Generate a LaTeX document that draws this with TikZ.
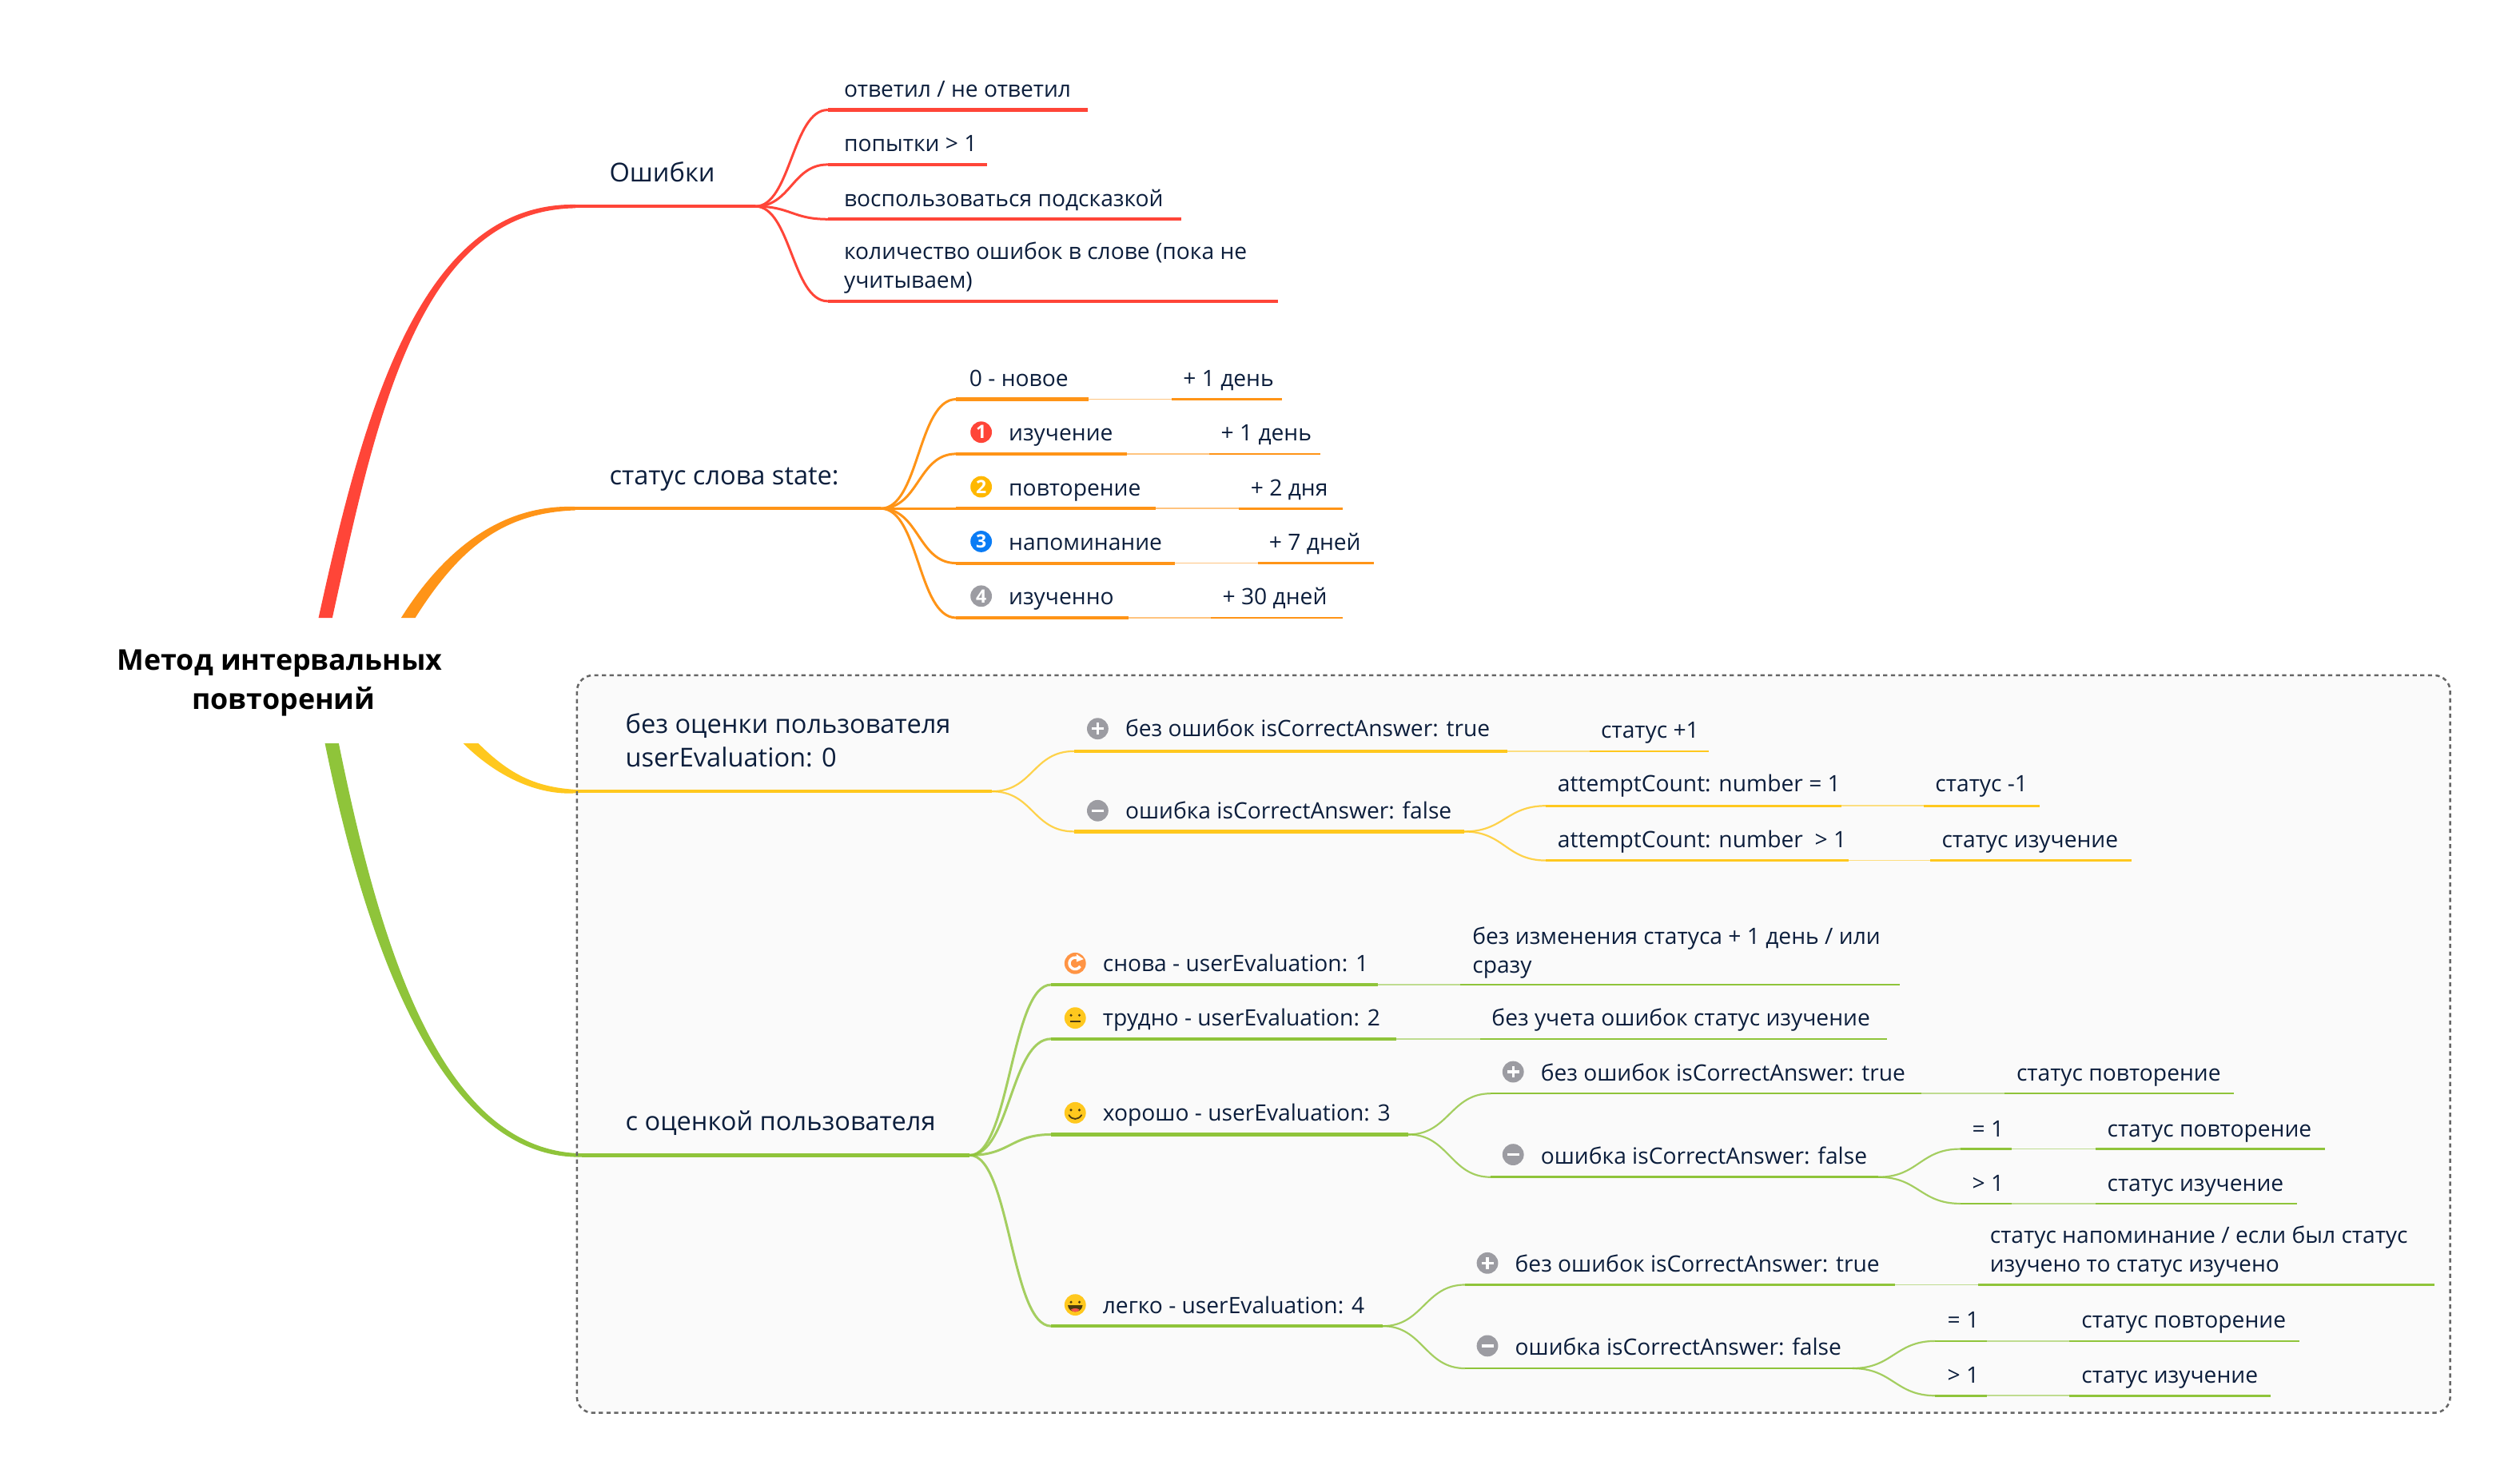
\documentclass[tikz,border=0pt]{standalone}
\usepackage{fontspec}
\setmainfont{Open Sans}
\usetikzlibrary{calc}
\definecolor{cred}{HTML}{FF4538}
\definecolor{corg}{HTML}{FF9417}
\definecolor{cyel}{HTML}{FFC81E}
\definecolor{cgrn}{HTML}{8FC43A}
\definecolor{ink}{HTML}{0C1E3C}
\definecolor{boxbg}{HTML}{FAFAFA}
\definecolor{boxln}{HTML}{666666}
\definecolor{cgray}{HTML}{9C9CA2}
\definecolor{cblue}{HTML}{0A7CF5}
\definecolor{cgold}{HTML}{FFB800}
\definecolor{rfsh}{HTML}{FF9444}
\definecolor{eyes}{HTML}{4A3A10}
\definecolor{tongue}{HTML}{F4574A}
\newcommand\fbody{\fontsize{14.1}{18.1}\selectfont}
\newcommand\ftop{\fontsize{16.3}{21.1}\selectfont}
\newcommand\froot{\fontsize{17.9}{24.6}\selectfont\bfseries}
\tikzset{
  x=1.0055pt,y=-1.0055pt,
  lvlA/.style={line width=2.2pt},
  lvlB/.style={line width=2.1pt},
  lvlC/.style={line width=1.3pt},
  linkline/.style={line width=0.8pt,opacity=.55},
  fanA/.style={line width=1.5pt,line cap=round},
  fanB/.style={line width=1.1pt,opacity=.8,line cap=round},
  lab/.style={font=\fbody,text=ink,anchor=base west,inner sep=0pt,align=left},
  toplab/.style={font=\ftop,text=ink,anchor=base west,inner sep=0pt,align=left},
  rootn/.style={font=\froot,text=black,align=center,inner sep=0pt,minimum height=78.4pt,minimum width=205pt},
  badge/.style={circle,inner sep=0pt,minimum size=13.4pt,text=white,font=\fontsize{11.5}{11.5}\selectfont\bfseries},
  frame/.style={line width=1.25pt,draw=boxln,dash pattern=on 2.6pt off 2.2pt,rounded corners=10pt},
}
% straight segment between two named coordinates
\newcommand\tseg[6]{\coordinate (#3-a) at (#4,#6); \coordinate (#3-b) at (#5,#6);
  \draw[#1,#2] (#3-a) -- (#3-b);}
% topic line with a faded link and the following child line
\newcommand\tpair[8]{\tseg{#1}{#2}{#3}{#4}{#5}{#8}
  \coordinate (#3-c) at (#6,#8); \coordinate (#3-d) at (#7,#8);
  \draw[#1,linkline] (#3-b) -- (#3-c);
  \draw[#1,lvlC] (#3-c) -- (#3-d);}
% S-curve from a parent end to a child start
\newcommand\tfan[5]{\draw[#1,#2] (#3) .. controls +(#5,0) and +(-#5,0) .. (#4);}
% tapered main branch: colour, start, c1 offset, c2 offset, end, half width at start, half width at end
\newcommand\ttaper[7]{\fill[#1] ($(#2)-(#6,0)$) .. controls ($(#2)+(#3)-(#6,0)$) and ($(#5)+(#4)-(0,2.4*#7)$) .. ($(#5)-(0,#7)$)
  -- ($(#5)+(0,#7)$) .. controls ($(#5)+(#4)+(0,2.4*#7)$) and ($(#2)+(#3)+(#6,0)$) .. ($(#2)+(#6,0)$) -- cycle;}
\newcommand\tlab[4]{\node[lab] (#1) at (#2,#3) {#4};}
\newcommand\ttop[4]{\node[toplab] (#1) at (#2,#3) {#4};}
\newcommand\tnum[5]{\node[badge,fill=#4] (#1) at (#2,#3) {#5};}
\newcommand\tplus[3]{\node[badge,fill=cgray] (#1) at (#2,#3) {};
  \draw[white,line width=1.7pt] ($(#1)-(3.7,0)$) -- ($(#1)+(3.7,0)$);
  \draw[white,line width=1.7pt] ($(#1)-(0,3.7)$) -- ($(#1)+(0,3.7)$);}
\newcommand\tminus[3]{\node[badge,fill=cgray] (#1) at (#2,#3) {};
  \draw[white,line width=1.7pt] ($(#1)-(3.7,0)$) -- ($(#1)+(3.7,0)$);}
\newcommand\tface[3]{\node[badge,fill=cyel] (#1) at (#2,#3) {};
  \fill[eyes] ($(#1)+(-2.6,-1.7)$) circle (0.85);
  \fill[eyes] ($(#1)+(2.6,-1.7)$) circle (0.85);}
\begin{document}
\begin{tikzpicture}
\path[use as bounding box,fill=white] (0,-0.4) rectangle (1568,921.1);
\node[rootn] (root) at (174,424.5) {Метод интервальных\\\hspace*{5pt}повторений};
\coordinate (rR) at ($(root.north)+(28.5,-1.3)$);
\coordinate (rO) at ($(root.north)+(80,-1.3)$);
\coordinate (rY) at ($(root.south)+(119,-1.5)$);
\coordinate (rG) at ($(root.south)+(32.5,-1.5)$);
% dashed group box, background
\node[fill=boxbg,rounded corners=10pt,inner sep=0pt,minimum width=1171.6pt,minimum height=461pt] (box) at (941.75,649.25) {};
% ---------- red
\tseg{cred}{lvlA}{err}{358}{470}{128}
\ttaper{cred}{rR}{27,-123}{-98,0}{err-a}{4.3}{1.1}
\ttop{terr}{379}{112.5}{Ошибки}
\tseg{cred}{lvlB}{e1}{515}{677}{68}
\tseg{cred}{lvlB}{e2}{515}{614}{102}
\tseg{cred}{lvlB}{e3}{515}{735}{136}
\tseg{cred}{lvlB}{e4}{515}{795}{187}
\foreach \k in {e1,e2,e3,e4}{\tfan{cred}{fanA}{err-b}{\k-a}{22}}
\tlab{te1}{525}{60}{ответил / не ответил}
\tlab{te2}{525}{94}{попытки > 1}
\tlab{te3}{525}{128}{воспользоваться подсказкой}
\tlab{te4}{525}{179}{количество ошибок в слове (пока не\\учитываем)}
% ---------- orange
\tseg{corg}{lvlA}{st}{358}{548}{316}
\ttaper{corg}{rO}{29,-46}{-43,0}{st-a}{4.4}{1.1}
\ttop{tst}{379}{301}{статус слова state:}
\tpair{corg}{lvlB}{s0}{595}{677.5}{729}{797.5}{248}
\tpair{corg}{lvlB}{s1}{595}{701}{752.6}{821.4}{282}
\tpair{corg}{lvlB}{s2}{595}{719}{770.6}{835.4}{316}
\tpair{corg}{lvlB}{s3}{595}{730.8}{782.6}{855}{350}
\tpair{corg}{lvlB}{s4}{595}{702}{753.6}{835.4}{384}
\foreach \k in {s0,s1,s2,s3,s4}{\tfan{corg}{fanA}{st-b}{\k-a}{24}}
\tlab{ts0}{603}{240}{0 - новое}
\tlab{tds0}{736}{240}{+ 1 день}
\tnum{b1}{610.5}{268.5}{cred}{1}
\tlab{ts1}{627.5}{274}{изучение}
\tlab{tds1}{759.5}{274}{+ 1 день}
\tnum{b2}{610.5}{302.5}{cgold}{2}
\tlab{ts2}{627.5}{308}{повторение}
\tlab{tds2}{778}{308}{+ 2 дня}
\tnum{b3}{610.5}{336.5}{cblue}{3}
\tlab{ts3}{627.5}{342}{напоминание}
\tlab{tds3}{789.5}{342}{+ 7 дней}
\tnum{b4}{610.5}{370.5}{cgray}{4}
\tlab{ts4}{627.5}{376}{изученно}
\tlab{tds4}{760.5}{376}{+ 30 дней}
% ---------- yellow
\tseg{cyel}{lvlA}{no}{358}{617}{492}
\ttaper{cyel}{rY}{20,20}{-24,0}{no-a}{4.7}{-1.1}
\ttop{tno}{389}{477}{без оценки пользователя\\userEvaluation: 0}
\tpair{cyel}{lvlB}{n1}{668.4}{938}{989}{1063}{467}
\tseg{cyel}{lvlB}{n2}{668.4}{911}{517}
\tfan{cyel}{fanB}{no-b}{n1-a}{26}
\tfan{cyel}{fanB}{no-b}{n2-a}{26}
\tplus{pn1}{683}{453}
\tlab{tn1}{700}{458}{без ошибок isCorrectAnswer: true}
\tlab{tdn1}{996}{459}{статус +1}
\tminus{mn2}{683}{504}
\tlab{tn2}{700}{509}{ошибка isCorrectAnswer: false}
\tpair{cyel}{lvlC}{n3}{962}{1146}{1197}{1269}{501}
\tpair{cyel}{lvlC}{n4}{962}{1150}{1201}{1326.5}{535}
\tfan{cyel}{fanB}{n2-b}{n3-a}{25}
\tfan{cyel}{fanB}{n2-b}{n4-a}{25}
\tlab{tn3}{969}{492}{attemptCount: number = 1}
\tlab{tdn3}{1204}{492}{статус -1}
\tlab{tn4}{969}{527}{attemptCount: number\ \ > 1}
\tlab{tdn4}{1208}{527}{статус изучение}
% ---------- green
\tseg{cgrn}{lvlA}{us}{362}{603.4}{718.4}
\ttaper{cgrn}{rG}{26,128}{-87,0}{us-a}{4.3}{-1.1}
\ttop{tus}{389}{703}{с оценкой пользователя}
\tpair{cgrn}{lvlB}{g1}{654}{857.2}{908.6}{1182}{612.3}
\tpair{cgrn}{lvlB}{g2}{654}{869}{920.9}{1174}{646}
\tseg{cgrn}{lvlB}{g3}{654}{876.4}{705.5}
\tseg{cgrn}{lvlB}{g4}{654}{860.4}{824.7}
\foreach \k in {g1,g2,g3,g4}{\tfan{cgrn}{fanB,line width=1.5pt}{us-b}{\k-a}{25}}
% refresh icon
\node[badge,fill=rfsh] (ic1) at (669,599) {};
\draw[white,line width=1.7pt] ($(ic1)+(3.1,1.8)$) arc[start angle=30,end angle=300,radius=3.6];
\fill[white] ($(ic1)+(0.8,-5.7)$) -- ($(ic1)+(5.2,-2.6)$) -- ($(ic1)+(0.8,-0.9)$) -- cycle;
\tlab{tg1}{686}{604}{снова - userEvaluation: 1}
\tlab{tdg1}{916}{605}{без изменения статуса + 1 день / или\\сразу}
% neutral
\tface{ic2}{669}{633}
\draw[eyes,line width=1pt] ($(ic2)+(-3.2,2.3)$) -- ($(ic2)+(3.2,2.3)$);
\tlab{tg2}{686}{638}{трудно - userEvaluation: 2}
\tlab{tdg2}{928}{638}{без учета ошибок статус изучение}
% smile
\tface{ic3}{669}{692}
\draw[eyes,line width=.9pt,line cap=round] ($(ic3)+(-3.9,1.4)$) .. controls ($(ic3)+(-2,4.6)$) and ($(ic3)+(2,4.6)$) .. ($(ic3)+(3.9,1.4)$);
\tlab{tg3}{686}{697}{хорошо - userEvaluation: 3}
% grin
\tface{ic4}{669}{811.5}
\fill[eyes] ($(ic4)+(-4.6,0.3)$) .. controls ($(ic4)+(-4,5.6)$) and ($(ic4)+(4,5.6)$) .. ($(ic4)+(4.6,0.3)$) -- cycle;
\fill[tongue] ($(ic4)+(-2.7,3)$) .. controls ($(ic4)+(-1.5,1.9)$) and ($(ic4)+(1.5,1.9)$) .. ($(ic4)+(2.7,3)$) .. controls ($(ic4)+(1.5,4.9)$) and ($(ic4)+(-1.5,4.9)$) .. ($(ic4)+(-2.7,3)$) -- cycle;
\tlab{tg4}{686}{817}{легко - userEvaluation: 4}
% хорошо children
\tpair{cgrn}{lvlC}{h1}{927.5}{1195.3}{1247.3}{1390}{680}
\tseg{cgrn}{lvlC}{h2}{927.5}{1168.7}{732}
\tfan{cgrn}{fanB}{g3-b}{h1-a}{25}
\tfan{cgrn}{fanB}{g3-b}{h2-a}{25}
\tplus{ph1}{941.5}{666.5}
\tlab{th1}{958.5}{672}{без ошибок isCorrectAnswer: true}
\tlab{tdh1}{1254.5}{672}{статус повторение}
\tminus{mh2}{941.5}{718}
\tlab{th2}{958.5}{724}{ошибка isCorrectAnswer: false}
\tpair{cgrn}{lvlC}{h3}{1219.7}{1251.7}{1303.7}{1446.7}{714.5}
\tpair{cgrn}{lvlC}{h4}{1219.7}{1251.7}{1303.7}{1429}{748.5}
\tfan{cgrn}{fanB}{h2-b}{h3-a}{25}
\tfan{cgrn}{fanB}{h2-b}{h4-a}{25}
\tlab{th3}{1227}{707}{= 1}
\tlab{tdh3}{1311}{707}{статус повторение}
\tlab{th4}{1227}{741}{> 1}
\tlab{tdh4}{1311}{741}{статус изучение}
% легко children
\tpair{cgrn}{lvlC}{l1}{911.6}{1179.3}{1230.9}{1514.6}{799}
\tseg{cgrn}{lvlC}{l2}{911.6}{1152.7}{851}
\tfan{cgrn}{fanB}{g4-b}{l1-a}{25}
\tfan{cgrn}{fanB}{g4-b}{l2-a}{25}
\tplus{pl1}{925.5}{785.5}
\tlab{tl1}{942.5}{791}{без ошибок isCorrectAnswer: true}
\tlab{tdl1}{1238}{791}{статус напоминание / если был статус\\изучено то статус изучено}
\tminus{ml2}{925.5}{837}
\tlab{tl2}{942.5}{843}{ошибка isCorrectAnswer: false}
\tpair{cgrn}{lvlC}{l3}{1204.2}{1236.2}{1287.7}{1430.7}{834}
\tpair{cgrn}{lvlC}{l4}{1204.2}{1236.2}{1287.7}{1412.9}{868}
\tfan{cgrn}{fanB}{l2-b}{l3-a}{25}
\tfan{cgrn}{fanB}{l2-b}{l4-a}{25}
\tlab{tl3}{1211.5}{826}{= 1}
\tlab{tdl3}{1295}{826}{статус повторение}
\tlab{tl4}{1211.5}{860}{> 1}
\tlab{tdl4}{1295}{860}{статус изучение}
% dashed outline above the branches
\draw[frame] (box.north west) rectangle (box.south east);
\end{tikzpicture}
\end{document}
